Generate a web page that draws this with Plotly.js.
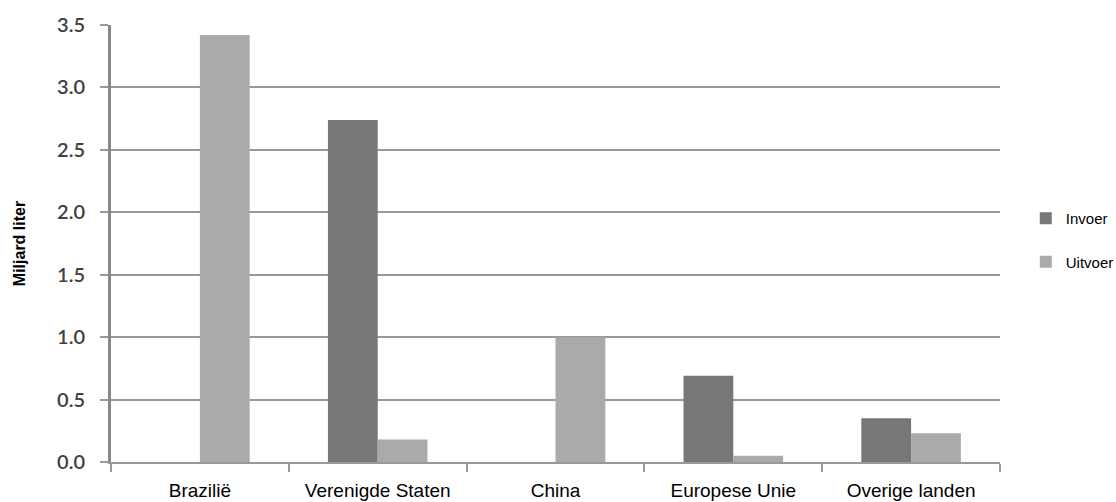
<!DOCTYPE html>
<html>
<head>
<meta charset="utf-8">
<script src="https://cdn.plot.ly/plotly-3.0.1.min.js"></script>
<style>html,body{margin:0;padding:0;background:#fff;}#chart{width:1116px;height:502px;}</style>
</head>
<body>
<div id="chart"></div>
<script>
// Ethanol trade per region, billion litres
const regions = ['Brazilië', 'Verenigde Staten', 'China', 'Europese Unie', 'Overige landen'];
const invoer = [0, 2.74, 0, 0.69, 0.35];
const uitvoer = [3.42, 0.18, 1.0, 0.05, 0.23];
const yTicks = [0, 0.5, 1.0, 1.5, 2.0, 2.5, 3.0, 3.5];
const yTickText = ['0.0', '0.5', '1.0', '1.5', '2.0', '2.5', '3.0', '3.5'];

const traces = [
  { type: 'bar', name: 'Invoer', x: regions, y: invoer, marker: { color: '#77777a' }, legendgroup: 'a' },
  { type: 'bar', name: 'Uitvoer', x: regions, y: uitvoer, marker: { color: '#aaaaab' }, legendgroup: 'b' }
];

const layout = {
  width: 1116, height: 502,
  margin: { l: 111, r: 116, t: 25, b: 40, autoexpand: false },
  paper_bgcolor: '#fff', plot_bgcolor: '#fff',
  barmode: 'group', bargap: 0.44, bargroupgap: 0,
  showlegend: true,
  legend: {
    x: 1.029, y: 0.508, xanchor: 'left', yanchor: 'middle',
    font: { family: 'Liberation Sans, Arial, sans-serif', size: 15, color: '#000' },
    traceorder: 'grouped', tracegroupgap: 21, itemwidth: 30
  },
  xaxis: {
    type: 'category', tickson: 'boundaries',
    ticks: 'outside', ticklen: 8, tickwidth: 2, tickcolor: '#999',
    showline: true, linecolor: '#999', linewidth: 2,
    showgrid: false, ticklabelstandoff: 10, automargin: false,
    tickfont: { family: 'Liberation Sans, Arial, sans-serif', size: 19, color: '#000' }
  },
  yaxis: {
    range: [0, 3.5], tickvals: yTicks, ticktext: yTickText,
    ticks: 'outside', ticklen: 8, tickwidth: 2, tickcolor: '#999',
    showline: true, linecolor: '#888', linewidth: 3,
    showgrid: true, gridcolor: '#999', gridwidth: 2,
    zeroline: false, ticklabelstandoff: 11, automargin: false,
    tickfont: { family: 'Lato, Open Sans, sans-serif', size: 20, weight: 600, color: '#404040' },
    title: { text: '<b>Miljard liter</b>', standoff: 28,
      font: { family: 'Liberation Sans, Arial, sans-serif', size: 16, color: '#000' } }
  }
};

Plotly.newPlot('chart', traces, layout, { displayModeBar: false, staticPlot: true });
</script>
</body>
</html>
